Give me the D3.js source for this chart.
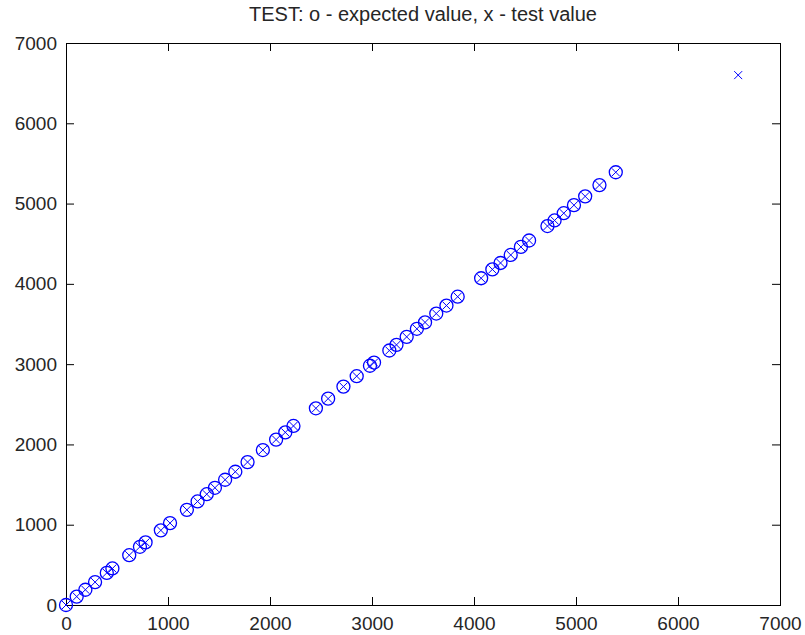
<!DOCTYPE html>
<html>
<head>
<meta charset="utf-8">
<script src="https://cdn.jsdelivr.net/npm/d3@7"></script>
<style>
  body { margin: 0; background: #fff; }
  svg text { font-family: 'Liberation Sans', Arial, sans-serif; fill: #262626; }
</style>
</head>
<body>
<div id="chart"></div>
<script>
// expected values (o) -- plotted against themselves
const expected = [0, 105, 190, 285, 400, 455, 620, 725, 780, 930, 1020, 1185, 1290, 1380,
  1460, 1560, 1660, 1780, 1930, 2060, 2150, 2230, 2450, 2570, 2720, 2850, 2980, 3020,
  3170, 3240, 3340, 3440, 3520, 3630, 3730, 3840, 4070, 4180, 4260, 4360, 4460, 4540,
  4720, 4790, 4880, 4980, 5090, 5230, 5390]
// test values (x), same points plus the lone one top right
const testX = expected.concat([6590])
const testY = expected.concat([6600])
const xTicks = [0, 1000, 2000, 3000, 4000, 5000, 6000, 7000]
const yTicks = [0, 1000, 2000, 3000, 4000, 5000, 6000, 7000]
const title = 'TEST: o - expected value, x - test value'

const width = 805
const height = 635
const margin = { top: 43, right: 25, bottom: 30, left: 66 }
const tick = 8
const blue = '#0000ff'

const svg = d3.select('#chart')
  .append('svg')
  .attr('width', width)
  .attr('height', height)

const x = d3.scaleLinear().domain([0, 7000]).range([margin.left, width - margin.right])
const y = d3.scaleLinear().domain([0, 7000]).range([height - margin.bottom, margin.top])

// axes, ticks pointing inward on all four sides
const axisStyle = g => {
  g.select('.domain').attr('stroke', '#000')
  g.selectAll('.tick line').attr('stroke', '#000')
  g.selectAll('.tick text').style('font-size', '19px').attr('fill', '#262626')
}

svg.append('g')
  .attr('transform', `translate(0,${y(0)})`)
  .call(d3.axisBottom(x).tickValues(xTicks).tickFormat(d3.format('d')).tickSizeInner(-tick).tickSizeOuter(0).tickPadding(12))
  .call(axisStyle)

svg.append('g')
  .attr('transform', `translate(0,${y(7000)})`)
  .call(d3.axisTop(x).tickValues(xTicks).tickFormat('').tickSizeInner(-tick).tickSizeOuter(0))
  .call(axisStyle)

svg.append('g')
  .attr('transform', `translate(${x(0)},0)`)
  .call(d3.axisLeft(y).tickValues(yTicks).tickFormat(d3.format('d')).tickSizeInner(-tick).tickSizeOuter(0).tickPadding(9))
  .call(axisStyle)

svg.append('g')
  .attr('transform', `translate(${x(7000)},0)`)
  .call(d3.axisRight(y).tickValues(yTicks).tickFormat('').tickSizeInner(-tick).tickSizeOuter(0))
  .call(axisStyle)

svg.selectAll('.domain').attr('shape-rendering', 'crispEdges')

// circles for expected
svg.append('g')
  .selectAll('circle')
  .data(expected)
  .enter()
  .append('circle')
  .attr('cx', d => x(d))
  .attr('cy', d => y(d))
  .attr('r', 6.5)
  .attr('fill', 'none')
  .attr('stroke', blue)
  .attr('stroke-width', 1.3)

// crosses for test
const xs = 4
svg.append('g')
  .selectAll('path')
  .data(testX.map((v, i) => [v, testY[i]]))
  .enter()
  .append('path')
  .attr('d', d => {
    const cx = x(d[0])
    const cy = y(d[1])
    return `M${cx - xs},${cy - xs}L${cx + xs},${cy + xs}M${cx - xs},${cy + xs}L${cx + xs},${cy - xs}`
  })
  .attr('fill', 'none')
  .attr('stroke', blue)
  .attr('stroke-width', 1)

svg.append('text')
  .attr('x', (x(0) + x(7000)) / 2)
  .attr('y', 21)
  .attr('text-anchor', 'middle')
  .style('font-size', '20px')
  .text(title)
</script>
</body>
</html>
